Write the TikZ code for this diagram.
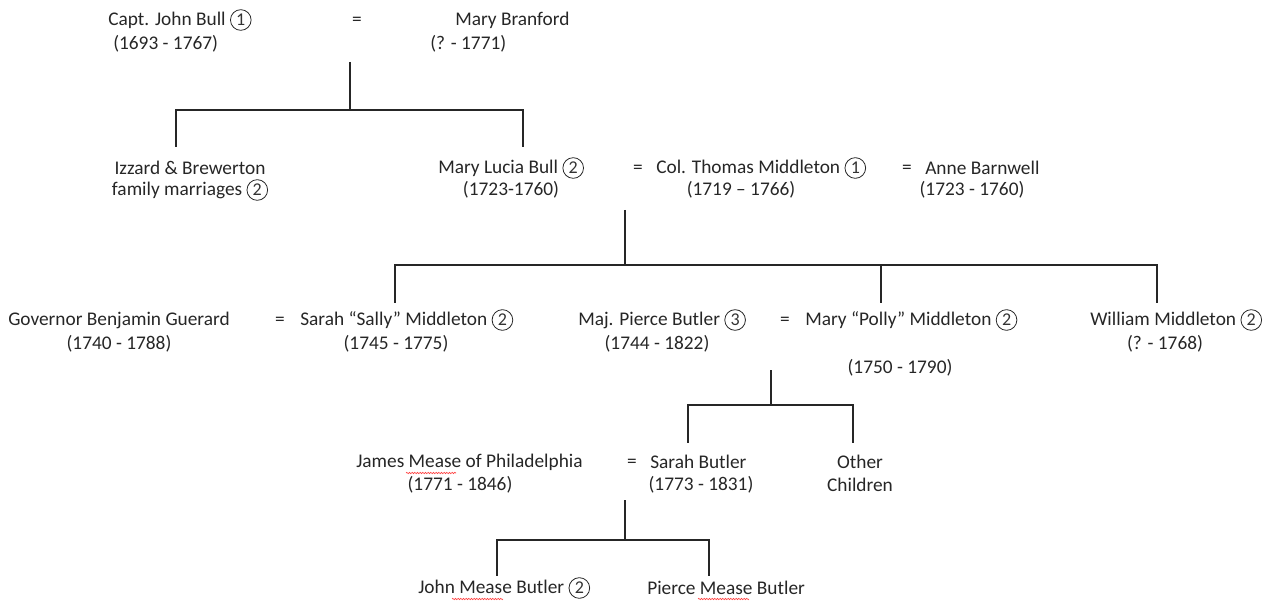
\documentclass[tikz,border=0pt]{standalone}
\usepackage{fontspec}
\setmainfont{Carlito}
\usetikzlibrary{decorations.pathmorphing}
\newcommand\cnum[1]{\tikz[baseline=(cc.base),x=1pt,y=1pt]\node[draw,circle,inner sep=0pt,minimum size=15.5pt,line width=0.6pt,text=black!80,font=\fontsize{13.5}{14}\selectfont](cc){#1};}
\begin{document}
\begin{tikzpicture}[x=0.75pt,y=-0.75pt,
  txt/.style={inner sep=0pt,text=black!85,font=\fontsize{14.5}{17}\selectfont},
  ln/.style={line width=1.1pt,black!85},
  sq/.style={red!75,line width=0.5pt,decorate,decoration={snake,amplitude=0.5pt,segment length=2pt}}]
\useasboundingbox (0,0) rectangle (1280,602);
% Row 1
\node[txt,anchor=west] (jb) at (108,20) {Capt. John Bull \cnum{1}};
\node[txt,anchor=west] (jbd) at (113,44) {(1693 - 1767)};
\node[txt] (eq1) at (357,21) {=};
\node[txt,anchor=west] (mb) at (455,20) {Mary Branford};
\node[txt,anchor=west] (mbd) at (430,44) {(? - 1771)};
\coordinate (m1) at (350,62);
\coordinate (j1) at (350,110);
\coordinate (c11) at (176,147);
\coordinate (c12) at (523,147);
\draw[ln] (m1) -- (j1);
\draw[ln] (j1) -| (c11);
\draw[ln] (j1) -| (c12);
% Row 2
\node[txt] (iz) at (190,168) {Izzard \& Brewerton};
\node[txt] (izd) at (190,190) {family marriages \cnum{2}};
\node[txt,anchor=west] (ml) at (438,168) {Mary Lucia Bull \cnum{2}};
\node[txt] (mld) at (511,190) {(1723-1760)};
\node[txt] (eq2) at (638,169) {=};
\node[txt,anchor=west] (tm) at (656,168) {Col. Thomas Middleton \cnum{1}};
\node[txt] (tmd) at (741,190) {(1719 -- 1766)};
\node[txt] (eq3) at (907,169) {=};
\node[txt,anchor=west] (ab) at (925,168) {Anne Barnwell};
\node[txt] (abd) at (972,190) {(1723 - 1760)};
\coordinate (m2) at (625,210);
\coordinate (j2) at (625,265);
\coordinate (c21) at (395,303);
\coordinate (c22) at (881,303);
\coordinate (c23) at (1157,303);
\draw[ln] (m2) -- (j2);
\draw[ln] (j2) -| (c21);
\draw[ln] (j2) -| (c22);
\draw[ln] (j2) -| (c23);
% Row 3
\node[txt] (bg) at (119,320) {Governor Benjamin Guerard};
\node[txt] (bgd) at (119,344) {(1740 - 1788)};
\node[txt] (eq4) at (280,321) {=};
\node[txt,anchor=west] (ss) at (300,320) {Sarah “Sally” Middleton \cnum{2}};
\node[txt] (ssd) at (396,344) {(1745 - 1775)};
\node[txt,anchor=west] (pb) at (578,320) {Maj. Pierce Butler \cnum{3}};
\node[txt] (pbd) at (657,344) {(1744 - 1822)};
\node[txt] (eq5) at (785,321) {=};
\node[txt,anchor=west] (pm) at (805,320) {Mary “Polly” Middleton \cnum{2}};
\node[txt] (pmd) at (900,368) {(1750 - 1790)};
\node[txt,anchor=west] (wm) at (1090,320) {William Middleton \cnum{2}};
\node[txt] (wmd) at (1165,344) {(? - 1768)};
\coordinate (m3) at (771,370);
\coordinate (j3) at (771,405);
\coordinate (c31) at (688,443);
\coordinate (c32) at (853,443);
\draw[ln] (m3) -- (j3);
\draw[ln] (j3) -| (c31);
\draw[ln] (j3) -| (c32);
% Row 4
\node[txt,anchor=west] (jm) at (356,462) {James Mease of Philadelphia};
\node[txt] (jmd) at (460,485) {(1771 - 1846)};
\node[txt] (eq6) at (632,463) {=};
\node[txt,anchor=west] (sb) at (650,462) {Sarah Butler};
\node[txt] (sbd) at (701,485) {(1773 - 1831)};
\node[txt] (oc) at (860,462) {Other};
\node[txt] (ocd) at (860,485) {Children};
\coordinate (m4) at (625,500);
\coordinate (j4) at (625,540);
\coordinate (c41) at (497,576);
\coordinate (c42) at (709,576);
\draw[ln] (m4) -- (j4);
\draw[ln] (j4) -| (c41);
\draw[ln] (j4) -| (c42);
% Row 5
\node[txt,anchor=west] (jmb) at (418,588) {John Mease Butler \cnum{2}};
\node[txt,anchor=west] (pmb) at (647,588) {Pierce Mease Butler};
% spell-check squiggles
\coordinate (s1a) at (406,473); \coordinate (s1b) at (456,473);
\coordinate (s2a) at (452,599); \coordinate (s2b) at (503,599);
\coordinate (s3a) at (698,599); \coordinate (s3b) at (749,599);
\draw[sq] (s1a) -- (s1b);
\draw[sq] (s2a) -- (s2b);
\draw[sq] (s3a) -- (s3b);
\end{tikzpicture}
\end{document}
